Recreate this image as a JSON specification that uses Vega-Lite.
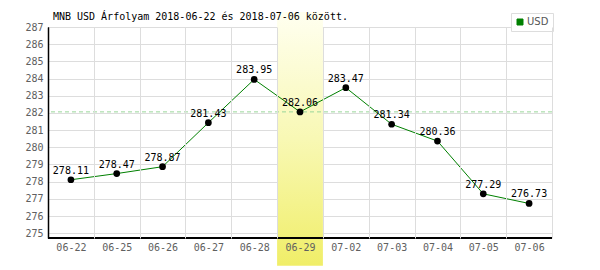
{
  "$schema": "https://vega.github.io/schema/vega-lite/v6.json",
  "autosize": "none",
  "width": 504,
  "height": 211,
  "padding": {"left": 48, "top": 27, "right": 48, "bottom": 32},
  "background": "white",
  "title": {
    "text": "MNB USD Árfolyam 2018-06-22 és 2018-07-06 között.",
    "anchor": "start",
    "font": "DejaVu Sans Mono",
    "fontSize": 10,
    "fontWeight": "normal",
    "color": "#000000",
    "baseline": "alphabetic",
    "offset": 7,
    "dx": 28,
    "dy": 25
  },
  "config": {
    "view": {"stroke": null},
    "axis": {
      "labelFont": "DejaVu Sans Mono",
      "labelFontSize": 10,
      "labelColor": "#606060",
      "gridColor": "#dddddd",
      "gridWidth": 1,
      "ticks": false,
      "title": null,
      "domainColor": "#000000",
      "domainWidth": 1.5,
      "labelOverlap": false
    }
  },
  "data": {
    "values": [
      {"date": "06-22", "value": 278.11, "series": "USD"},
      {"date": "06-25", "value": 278.47, "series": "USD"},
      {"date": "06-26", "value": 278.87, "series": "USD"},
      {"date": "06-27", "value": 281.43, "series": "USD"},
      {"date": "06-28", "value": 283.95, "series": "USD"},
      {"date": "06-29", "value": 282.06, "series": "USD"},
      {"date": "07-02", "value": 283.47, "series": "USD"},
      {"date": "07-03", "value": 281.34, "series": "USD"},
      {"date": "07-04", "value": 280.36, "series": "USD"},
      {"date": "07-05", "value": 277.29, "series": "USD"},
      {"date": "07-06", "value": 276.73, "series": "USD"}
    ]
  },
  "encoding": {
    "x": {
      "field": "date",
      "type": "ordinal",
      "scale": {"type": "band", "paddingInner": 0, "paddingOuter": 0},
      "axis": {
        "labelAngle": 0,
        "labelPadding": 4,
        "tickBand": "extent",
        "domain": false,
        "grid": true,
        "gridColor": {"condition": {"test": "datum.index < 0", "value": "#000000"}, "value": "#dddddd"}
      }
    },
    "y": {
      "field": "value",
      "type": "quantitative",
      "scale": {"domain": [274.72, 287], "nice": false, "zero": false},
      "axis": {
        "values": [275, 276, 277, 278, 279, 280, 281, 282, 283, 284, 285, 286, 287],
        "labelPadding": 5,
        "grid": true,
        "domain": true,
        "domainColor": "#000000",
        "domainWidth": 1.5
      }
    }
  },
  "layer": [
    {
      "transform": [{"filter": "datum.date == '06-29'"}],
      "mark": {
        "type": "rect",
        "clip": false,
        "fill": {
          "gradient": "linear",
          "x1": 0, "y1": 0, "x2": 0, "y2": 1,
          "stops": [
            {"offset": 0, "color": "#fffff0"},
            {"offset": 0.5, "color": "#f8f8b4"},
            {"offset": 1, "color": "#f0ee68"}
          ]
        }
      },
      "encoding": {
        "y": {"datum": 287.87, "type": "quantitative"},
        "y2": {"datum": 273.1}
      }
    },
    {
      "transform": [{"filter": "datum.date == '06-29'"}],
      "mark": {"type": "rule", "color": "#99d699", "strokeDash": [4, 3], "strokeWidth": 1},
      "encoding": {"x": null}
    },
    {
      "mark": {"type": "line", "color": "#008000", "strokeWidth": 1},
      "encoding": {
        "color": {
          "field": "series",
          "type": "nominal",
          "scale": {"range": ["#008000"]},
          "legend": {
            "orient": "none",
            "legendX": 463,
            "legendY": -14,
            "title": null,
            "symbolType": "square",
            "symbolSize": 36,
            "symbolFillColor": "#008000",
            "symbolStrokeColor": "#555555",
            "symbolStrokeWidth": 1,
            "labelFont": "DejaVu Sans",
            "labelFontSize": 10,
            "labelColor": "#555555",
            "strokeColor": "#dddddd",
            "fillColor": "white",
            "padding": 4,
            "labelOffset": 2
          }
        }
      }
    },
    {
      "mark": {"type": "circle", "color": "#000000", "opacity": 1, "size": 45}
    },
    {
      "mark": {"type": "text", "font": "DejaVu Sans Mono", "fontSize": 10, "color": "#000000", "baseline": "alphabetic", "dy": -6},
      "encoding": {"text": {"field": "value", "type": "quantitative", "format": ".2f"}}
    },
    {
      "mark": {"type": "rule", "color": "#000000", "strokeWidth": 1.5},
      "encoding": {"y": {"datum": 274.72, "type": "quantitative"}, "x": null}
    }
  ]
}
